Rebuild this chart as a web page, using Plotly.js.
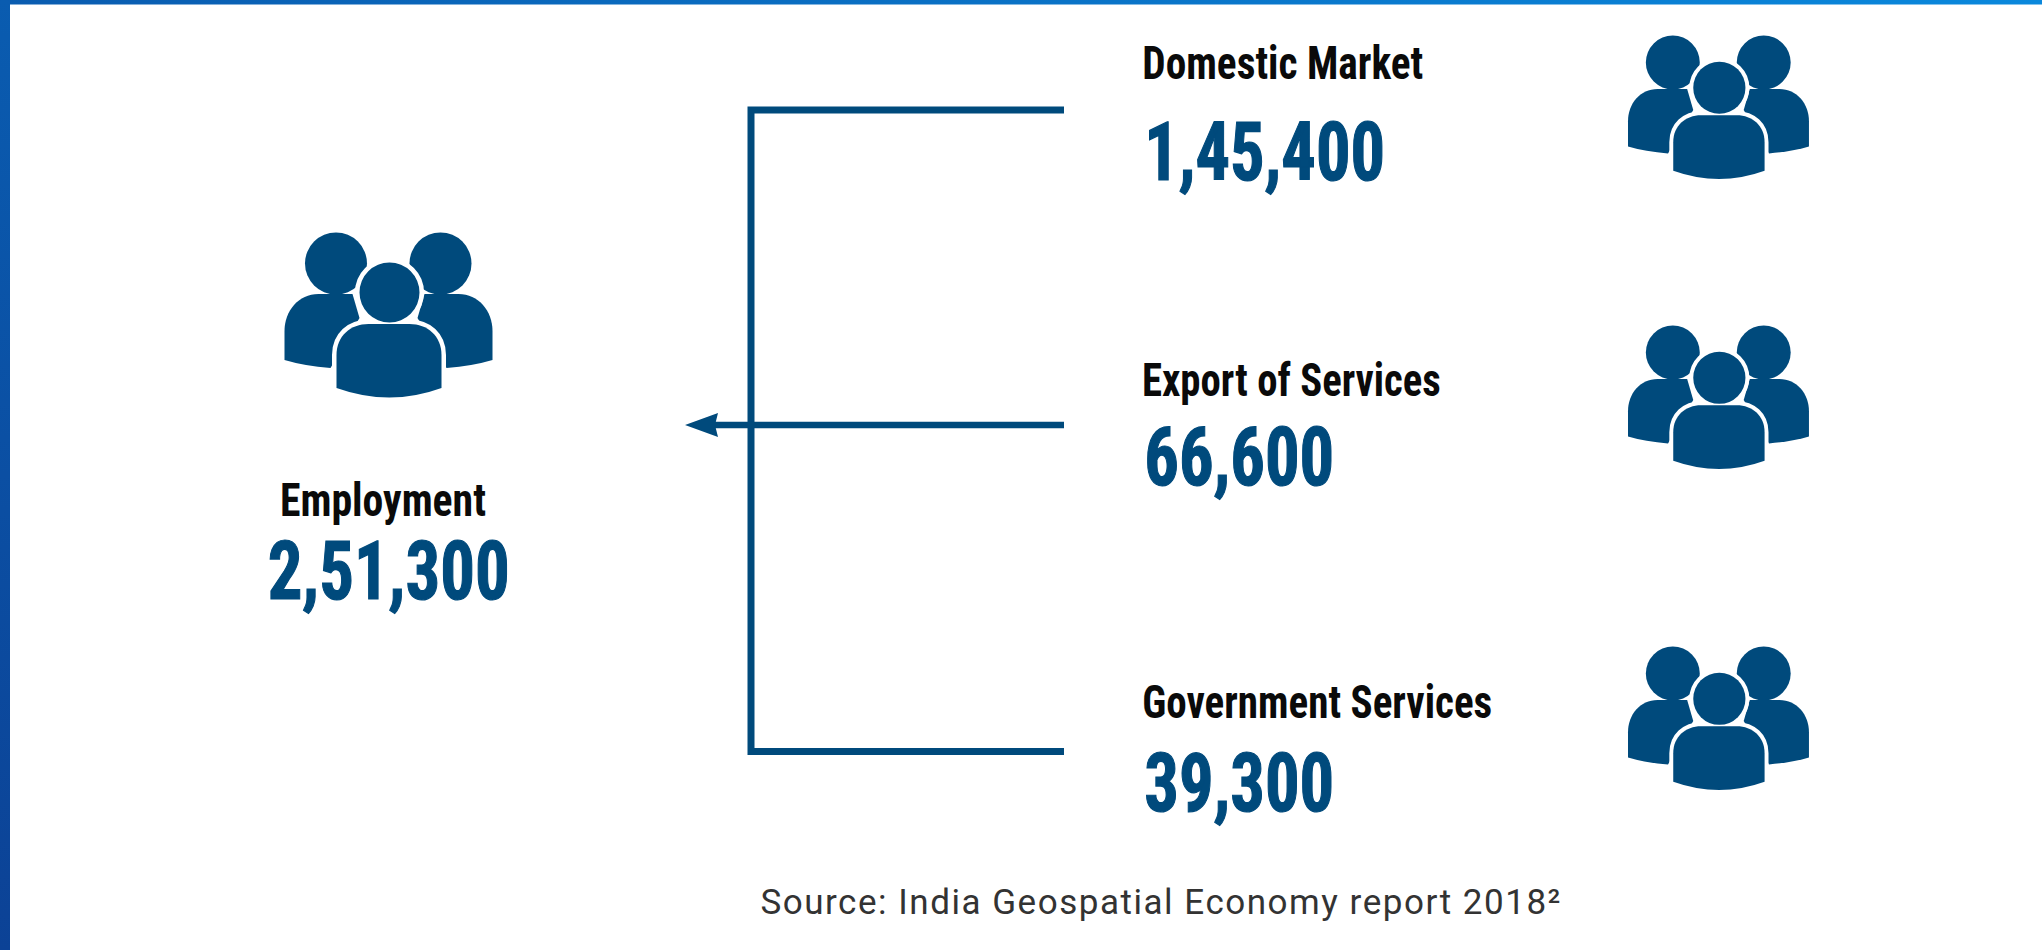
<!DOCTYPE html>
<html><head><meta charset="utf-8">
<script src="https://cdn.plot.ly/plotly-3.0.1.min.js"></script>
<style>html,body{margin:0;padding:0;background:#fff;overflow:hidden}#c{width:2042px;height:950px}</style>
</head><body><div id="c"></div>
<script>
// --- data ---
const sourceLabels = ["Domestic Market", "Export of Services", "Government Services"];
const sourceValues = ["1,45,400", "66,600", "39,300"];
const totalLabel = "Employment";
const totalValue = "2,51,300";
const sourceNote = "Source: India Geospatial Economy report 2018²";

// --- layout positions (pixel axes) ---
const W = 2042, H = 950;
const labelY = [62, 379, 701];
const valueY = [152, 457.5, 783.5];
const labelW = [281, 299, 350];
const valueW = [241, 190, 190];
const rowLineY = [110, 425, 751.5];
const iconY = [36, 326, 647];
const iconX = 1628;
const BLUE = "#004a7c";

const shapes = [];
function addIcon(ox, oy, s) {
  const X = v => (ox + v * s).toFixed(2), Y = v => (oy + v * s).toFixed(2);
  const side = (m) => {
    const fx = v => X(m ? 208 - v : v);
    return `M${fx(0)},${Y(127)} Q${fx(20)},${Y(133)} ${fx(46)},${Y(135)} L${fx(75)},${Y(85)} L${fx(68)},${Y(61)} L${fx(34)},${Y(61)} C${fx(14)},${Y(61)} ${fx(0)},${Y(78)} ${fx(0)},${Y(98)} Z`;
  };
  const mid = `M${X(52)},${Y(155)} Q${X(105)},${Y(174)} ${X(157)},${Y(155)} L${X(157)},${Y(122)} C${X(157)},${Y(103)} ${X(143)},${Y(91)} ${X(125)},${Y(91)} L${X(84)},${Y(91)} C${X(66)},${Y(91)} ${X(52)},${Y(103)} ${X(52)},${Y(122)} Z`;
  const circ = (cx, cy, r, fill, lw) => ({type:"circle", xref:"x", yref:"y",
    x0:+X(cx - r), x1:+X(cx + r), y0:+Y(cy - r), y1:+Y(cy + r),
    fillcolor:fill, line:{color:"#ffffff", width:lw}});
  const path = (d, fill, lw) => ({type:"path", xref:"x", yref:"y", path:d,
    fillcolor:fill, line:{color:"#ffffff", width:lw}});
  shapes.push(circ(51.5, 30.5, 31, BLUE, 0), circ(156, 30.5, 31, BLUE, 0));
  shapes.push(path(side(false), BLUE, 0), path(side(true), BLUE, 0));
  shapes.push(circ(105, 59.5, 30, "#ffffff", 9 * s), path(mid, "#ffffff", 9 * s));
  shapes.push(circ(105, 59.5, 30, BLUE, 0), path(mid, BLUE, 0));
}
addIcon(284.5, 233, 1);
iconY.forEach(y => addIcon(iconX, y, 0.87));

// arrow head
shapes.push({type:"path", xref:"x", yref:"y", fillcolor:BLUE, line:{width:0},
  path:"M685,425 L718,413 L715,425 L718,437 Z"});

const traces = [
  // page frame
  {x:[0,W,W,0,0], y:[0,0,4.5,4.5,0], mode:"lines", fill:"toself", line:{width:0}, hoverinfo:"skip",
   fillgradient:{type:"horizontal", colorscale:[[0,"#0a5cb0"],[1,"#0a88dc"]]}},
  {x:[0,10,10,0,0], y:[0,0,H,H,0], mode:"lines", fill:"toself", line:{width:0}, hoverinfo:"skip",
   fillgradient:{type:"vertical", colorscale:[[0,"#0c4296"],[1,"#0a5cb0"]]}},
  // bracket
  {x:[1064,751,751,1064], y:[rowLineY[0],rowLineY[0],rowLineY[2],rowLineY[2]], mode:"lines",
   line:{color:BLUE, width:7}, hoverinfo:"skip"},
  {x:[1064,708], y:[rowLineY[1],rowLineY[1]], mode:"lines", line:{color:BLUE, width:6.5}, hoverinfo:"skip"}
];

const fitted = [];
const ann = (text, left, y, width, size, color, fam, weight, adjust, stroke) => {
  fitted.push({width, adjust, stroke, color});
  return {text, x:left + width / 2, y, xref:"x", yref:"y", xanchor:"center", yanchor:"middle",
          showarrow:false, borderpad:0, font:{size, color, family:fam, weight}};
};
const NARROW = "'Roboto Condensed','Liberation Sans Narrow',sans-serif";
const annotations = [];
sourceLabels.forEach((t,i)=>annotations.push(ann(t,1142,labelY[i],labelW[i],47,"#0a0a0a",NARROW,700,"spacingAndGlyphs",0)));
sourceValues.forEach((t,i)=>annotations.push(ann(t,1144,valueY[i],valueW[i],81,BLUE,NARROW,700,"spacingAndGlyphs",1.2)));
annotations.push(ann(totalLabel,280,499,206,47,"#0a0a0a",NARROW,700,"spacingAndGlyphs",0));
annotations.push(ann(totalValue,267,571.5,242,81,BLUE,NARROW,700,"spacingAndGlyphs",1.2));
annotations.push(ann(sourceNote,760,902,800,35,"#333333","Roboto, sans-serif",400,"spacing",0));

Plotly.newPlot("c", traces, {
  width:W, height:H, margin:{l:0,r:0,t:0,b:0}, showlegend:false,
  paper_bgcolor:"#ffffff", plot_bgcolor:"#ffffff",
  xaxis:{range:[0,W], visible:false, fixedrange:true},
  yaxis:{range:[H,0], visible:false, fixedrange:true},
  shapes, annotations
}, {displayModeBar:false, staticPlot:true}).then(gd => {
  // The reference type is a condensed DIN: fit each text to its width in the picture.
  gd.querySelectorAll(".annotation-text").forEach((t, i) => {
    const f = fitted[i];
    t.setAttribute("textLength", f.width);
    t.setAttribute("lengthAdjust", f.adjust);
    if (f.stroke) { t.style.stroke = f.color; t.style.strokeWidth = f.stroke + "px"; }
  });
});
</script></body></html>
